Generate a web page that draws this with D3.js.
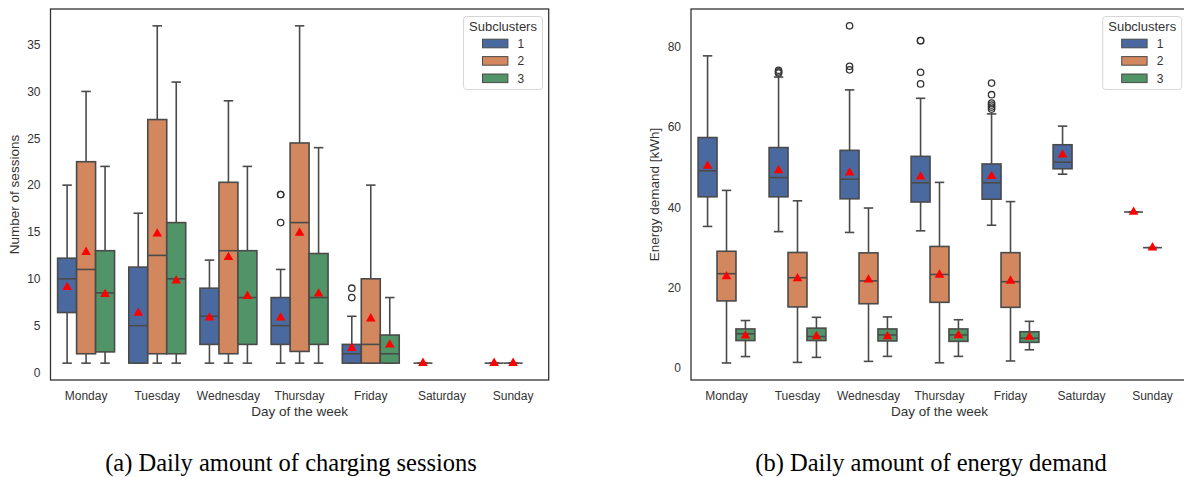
<!DOCTYPE html>
<html>
<head>
<meta charset="utf-8">
<script src="https://cdn.jsdelivr.net/npm/d3@7"></script>
<style>
  body { margin: 0; background: #fff; }
  svg { display: block; font-family: "Liberation Sans", Arial, sans-serif; }
</style>
</head>
<body>
<svg id="chart" width="1184" height="477"></svg>
<script>
const days = ["Monday", "Tuesday", "Wednesday", "Thursday", "Friday", "Saturday", "Sunday"];
const subclusters = ["1", "2", "3"];
const colors = ["#4a6a9f", "#d2875f", "#519467"];

// box stats per day: [whisker low, q1, median, q3, whisker high], null = no data
const sessions1 = [[1, 6.4, 10, 12.2, 20], [1, 1, 5, 11.25, 17], [1, 3, 6, 9, 12], [1, 3, 5, 8, 11], [1, 1, 2, 3, 6], [1, 1, 1, 1, 1], [1, 1, 1, 1, 1]];
const sessions2 = [[1, 2, 11, 22.5, 30], [1, 2, 12.5, 27, 37], [1, 2, 13, 20.3, 29], [1, 2.25, 16, 24.5, 37], [1, 1, 3, 10, 20], null, [1, 1, 1, 1, 1]];
const sessions3 = [[1, 2.2, 8.5, 13, 22], [1, 2, 10, 16, 31], [1, 3, 8, 13, 22], [1, 3, 8, 12.7, 24], [1, 1, 2, 4, 8], null, null];
const sessionsMean1 = [9.1, 6.35, 5.85, 5.85, 2.6, 1, 1];
const sessionsMean2 = [12.85, 14.8, 12.3, 14.9, 5.75, null, 1];
const sessionsMean3 = [8.35, 9.8, 8.15, 8.4, 2.96, null, null];
const sessionsOut1 = [[], [], [], [19, 19, 16], [9, 8], [], []];
const sessionsOut2 = [[], [], [], [], [], [], []];
const sessionsOut3 = [[], [], [], [], [], [], []];
const sessionsTicks = [0, 5, 10, 15, 20, 25, 30, 35];

const energy1 = [[35.2, 42.6, 49.1, 57.4, 77.8], [33.9, 42.6, 47.4, 54.9, 72.5], [33.7, 42.1, 47, 54.2, 69.3], [34.1, 41.3, 46.1, 52.7, 67.2], [35.5, 42, 46.1, 50.8, 63.3], [48.25, 49.6, 51.25, 55.6, 60.25], [38.8, 38.8, 38.8, 38.8, 38.8]];
const energy2 = [[1.1, 16.6, 23.4, 29, 44.2], [1.25, 15.1, 22.4, 28.7, 41.6], [1.5, 15.9, 21.6, 28.6, 39.8], [1.15, 16.25, 23.2, 30.2, 46.2], [1.6, 15, 21.4, 28.65, 41.4], null, [29.9, 29.9, 29.9, 29.9, 29.9]];
const energy3 = [[2.7, 6.7, 8.4, 9.6, 11.7], [2.5, 6.7, 7.7, 9.8, 12.5], [2.75, 6.6, 8.1, 9.6, 12.6], [2.75, 6.5, 8.1, 9.6, 11.9], [4.4, 6.25, 7.3, 8.9, 11.5], null, null];
const energyMean1 = [50.3, 49.2, 48.6, 47.6, 47.75, 53.1, 38.8];
const energyMean2 = [22.7, 22.2, 21.9, 23.1, 21.6, null, 29.9];
const energyMean3 = [7.9, 7.75, 7.7, 8, 7.6, null, null];
const energyOut1 = [[], [73.5, 73.8, 74.2], [85.3, 75.2, 74.3], [81.6, 81.6, 73.7, 70.8], [71, 68.1, 66, 65.5, 65, 64.5], [], []];
const energyOut2 = [[], [], [], [], [], [], []];
const energyOut3 = [[], [], [], [], [], [], []];
const energyTicks = [0, 20, 40, 60, 80];

const svg = d3.select("#chart");
const edge = "#4a4a4a";

function drawPanel(p) {
  const x = d3.scaleBand().domain(days).range([p.left, p.right]);
  const y = d3.scaleLinear().domain(p.domain).range([p.bottom, p.top]);
  const boxW = x.bandwidth() * 0.8 / 3;
  const g = svg.append("g");

  // y axis
  const ya = g.append("g")
    .attr("transform", `translate(${p.left},0)`)
    .call(d3.axisLeft(y).tickValues(p.ticks).tickSize(0).tickPadding(10));
  ya.select(".domain").remove();
  ya.selectAll("text").attr("font-size", 12).attr("fill", "#333").attr("font-family", null);

  // x axis
  const xa = g.append("g")
    .attr("transform", `translate(0,${p.bottom})`)
    .call(d3.axisBottom(x).tickSize(0).tickPadding(11));
  xa.select(".domain").remove();
  xa.selectAll("text").attr("font-size", 12).attr("fill", "#333").attr("font-family", null);

  g.append("text")
    .attr("x", (p.left + p.right) / 2).attr("y", 416)
    .attr("text-anchor", "middle").attr("font-size", 13.5).attr("fill", "#333")
    .text("Day of the week");
  g.append("text")
    .attr("transform", `translate(${p.ylabX},${(p.top + p.bottom) / 2}) rotate(-90)`)
    .attr("text-anchor", "middle").attr("font-size", 13.5).attr("fill", "#333")
    .text(p.ylabel);

  p.boxes.forEach((series, ci) => {
    series.forEach((s, di) => {
      if (!s) return;
      const cx = x(days[di]) + x.bandwidth() / 2 + (ci - 1) * boxW;
      const [lo, q1, med, q3, hi] = s;
      const bg = g.append("g");
      // whiskers
      bg.append("line").attr("x1", cx).attr("x2", cx).attr("y1", y(q1)).attr("y2", y(lo))
        .attr("stroke", edge).attr("stroke-width", 1.6);
      bg.append("line").attr("x1", cx).attr("x2", cx).attr("y1", y(q3)).attr("y2", y(hi))
        .attr("stroke", edge).attr("stroke-width", 1.6);
      [lo, hi].forEach(v => {
        bg.append("line").attr("x1", cx - boxW / 4).attr("x2", cx + boxW / 4)
          .attr("y1", y(v)).attr("y2", y(v)).attr("stroke", edge).attr("stroke-width", 1.6);
      });
      bg.append("rect")
        .attr("x", cx - boxW / 2).attr("width", boxW)
        .attr("y", y(q3)).attr("height", Math.max(0, y(q1) - y(q3)))
        .attr("fill", colors[ci]).attr("stroke", edge).attr("stroke-width", 1.6);
      bg.append("line").attr("x1", cx - boxW / 2).attr("x2", cx + boxW / 2)
        .attr("y1", y(med)).attr("y2", y(med)).attr("stroke", edge).attr("stroke-width", 1.6);
      p.outliers[ci][di].forEach(v => {
        bg.append("circle").attr("cx", cx).attr("cy", y(v)).attr("r", 3.2)
          .attr("fill", "none").attr("stroke", "#333").attr("stroke-width", 1.3);
      });
      const m = p.means[ci][di];
      if (m != null) {
        bg.append("path")
          .attr("d", d3.symbol(d3.symbolTriangle, 40)())
          .attr("transform", `translate(${cx},${y(m)})`)
          .attr("fill", "#ff0000");
      }
    });
  });

  // frame
  g.append("rect")
    .attr("x", p.left).attr("y", p.top)
    .attr("width", p.right - p.left).attr("height", p.bottom - p.top)
    .attr("fill", "none").attr("stroke", "#333").attr("stroke-width", 1.3);

  // legend
  const lg = g.append("g").attr("transform", `translate(${p.legX},16.5)`);
  lg.append("rect").attr("width", 79).attr("height", 73).attr("rx", 3)
    .attr("fill", "#fff").attr("fill-opacity", 0.85).attr("stroke", "#d6d6d6");
  lg.append("text").attr("x", 39.5).attr("y", 14).attr("text-anchor", "middle")
    .attr("font-size", 13).attr("fill", "#333").text("Subclusters");
  subclusters.forEach((c, i) => {
    const ry = 27 + i * 17.4;
    lg.append("rect").attr("x", 19).attr("y", ry - 4.3).attr("width", 25.4).attr("height", 8.6)
      .attr("fill", colors[i]).attr("stroke", edge).attr("stroke-width", 1);
    lg.append("text").attr("x", 54).attr("y", ry + 4.2)
      .attr("font-size", 12).attr("fill", "#333").text(c);
  });

  svg.append("text")
    .attr("x", p.capX).attr("y", 471)
    .attr("text-anchor", "middle")
    .attr("font-family", "'Liberation Serif', 'Times New Roman', serif")
    .attr("font-size", 24.5).attr("fill", "#000")
    .text(p.caption);
}

drawPanel({
  left: 50.5, right: 548.7, top: 9, bottom: 380,
  domain: [-0.8, 38.8], ticks: sessionsTicks,
  boxes: [sessions1, sessions2, sessions3],
  means: [sessionsMean1, sessionsMean2, sessionsMean3],
  outliers: [sessionsOut1, sessionsOut2, sessionsOut3],
  ylabel: "Number of sessions", ylabX: 19,
  legX: 463.5, capX: 291,
  caption: "(a) Daily amount of charging sessions"
});

drawPanel({
  left: 691, right: 1188, top: 9, bottom: 380,
  domain: [-3.15, 89.5], ticks: energyTicks,
  boxes: [energy1, energy2, energy3],
  means: [energyMean1, energyMean2, energyMean3],
  outliers: [energyOut1, energyOut2, energyOut3],
  ylabel: "Energy demand [kWh]", ylabX: 659,
  legX: 1102.7, capX: 931,
  caption: "(b) Daily amount of energy demand"
});
</script>
</body>
</html>
